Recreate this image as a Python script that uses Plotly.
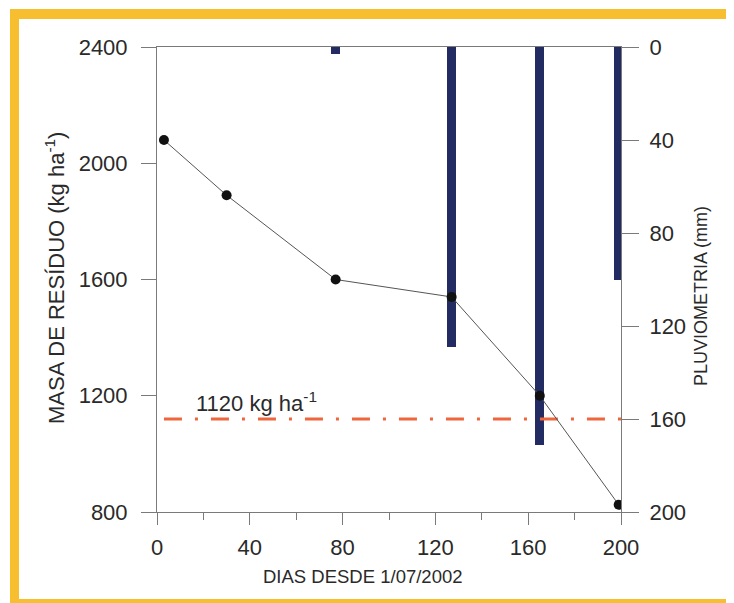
import plotly.graph_objects as go

# ---- data ----
dias_masa = [3, 30, 77, 127, 165, 199]
masa = [2080, 1890, 1600, 1540, 1200, 825]

dias_lluvia = [77, 127, 165, 199]
lluvia = [3, 129, 171, 100]

umbral = 1120
umbral_x = [3, 200]

x_ticks = [0, 40, 80, 120, 160, 200]
y_left_ticks = [800, 1200, 1600, 2000, 2400]
y_right_ticks = [0, 40, 80, 120, 160, 200]

FONT = "Liberation Sans, Arial, sans-serif"
TXT = "#2a2a2a"
AX = "#7a7a7a"
BORDER = "#F7BF2F"

OFF = 8  # page body margin
W, H = 734 - OFF, 603 - OFF
ML, MR, MT, MB = 157 - OFF, W - (621 - OFF), 47 - OFF, H - (512 - OFF)
PW, PH = W - ML - MR, H - MT - MB


def px(xs):
    return (xs - OFF - ML) / PW


def py(ys):
    return (H - MB - (ys - OFF)) / PH


fig = go.Figure()

fig.add_trace(go.Bar(
    x=dias_lluvia, y=lluvia, width=4, marker=dict(color="#222C62", line=dict(width=0)),
    yaxis="y", showlegend=False))

fig.add_trace(go.Scatter(
    x=umbral_x, y=[umbral] * len(umbral_x), mode="lines", yaxis="y2",
    line=dict(color="#F0663C", width=3, dash="18px,13px,3px,13px"), showlegend=False))

fig.add_trace(go.Scatter(
    x=dias_masa, y=masa, mode="lines+markers", yaxis="y2",
    line=dict(color="#555555", width=1),
    marker=dict(color="#111111", size=10), showlegend=False))

axis_font = dict(family=FONT, size=22, color=TXT)

fig.update_layout(
    width=W, height=H,
    margin=dict(l=ML, r=MR, t=MT, b=MB),
    paper_bgcolor="white", plot_bgcolor="white",
    font=dict(family=FONT, color=TXT),
    bargap=0,
    xaxis=dict(range=[0, 200], tickvals=x_ticks, ticks="outside", ticklen=12, tickwidth=1,
               tickcolor=AX, showline=True, linecolor=AX, linewidth=1, mirror=True,
               showgrid=False, zeroline=False, tickfont=axis_font, ticklabelstandoff=4,
               minor=dict(dtick=20, ticks="outside", ticklen=7, tickcolor=AX, showgrid=False)),
    yaxis=dict(range=[200, 0], side="right", tickvals=y_right_ticks, ticks="outside",
               ticklen=17, tickcolor=AX, showline=True, linecolor=AX, linewidth=1,
               showgrid=False, zeroline=False, tickfont=axis_font, ticklabelstandoff=6),
    yaxis2=dict(range=[800, 2400], side="left", overlaying="y", tickvals=y_left_ticks,
                ticks="outside", ticklen=15, tickcolor=AX, showline=True, linecolor=AX,
                linewidth=1, showgrid=False, zeroline=False, tickfont=axis_font,
                ticklabelstandoff=9),
)

ann = [
    dict(text="MASA DE RESÍDUO (kg ha<sup>-1</sup>)", x=px(55), y=py(278), textangle=-90,
         font=dict(family=FONT, size=22, color=TXT)),
    dict(text="PLUVIOMETRIA (mm)", x=px(701), y=py(296), textangle=-90,
         font=dict(family=FONT, size=18, color=TXT)),
    dict(text="DIAS DESDE 1/07/2002", x=px(363), y=py(577),
         font=dict(family=FONT, size=18.5, color=TXT)),
]
for a in ann:
    a.update(xref="paper", yref="paper", showarrow=False, xanchor="center", yanchor="middle")
fig.update_layout(annotations=ann)

fig.add_annotation(text="1120 kg ha<sup>-1</sup>", x=16, y=umbral, xref="x", yref="y2",
                   xanchor="left", yanchor="bottom", yshift=1, showarrow=False,
                   font=dict(family=FONT, size=22, color=TXT))

# yellow frame (screen pixel rectangles)
for x0, y0, x1, y1 in [(10, 9, 19, 603), (10, 9, 734, 19), (10, 599, 734, 603)]:
    fig.add_shape(type="rect", xref="paper", yref="paper", x0=px(x0), x1=px(x1),
                  y0=py(y0), y1=py(y1), fillcolor=BORDER, line=dict(width=0), layer="below")

fig.write_html("out.html")
